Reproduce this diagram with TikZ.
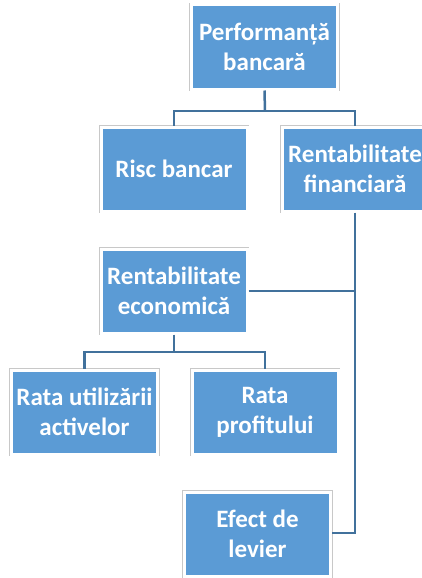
\documentclass[tikz,border=0pt]{standalone}
\usepackage{fontspec}
\setmainfont{Carlito}
\definecolor{boxblue}{HTML}{5B9BD5}
\definecolor{lineblue}{HTML}{41719C}
\definecolor{rimgray}{HTML}{C8C8C8}
\begin{document}
\begin{tikzpicture}[x=1pt,y=-1pt,
  box/.style={fill=boxblue, draw=white, line width=3pt,
    preaction={draw=rimgray, line width=4.5pt},
    minimum width=146pt, minimum height=84pt, inner sep=2pt,
    align=center, text=white,
    font=\fontsize{25}{30}\selectfont\bfseries},
  conn/.style={draw=lineblue, line width=2.5pt}]
\clip (0,0) rectangle (422,578);
\fill[white] (0,0) rectangle (422,578);
\node[box] (perf) at (264.5,47) {Performanță\\bancară};
\node[box] (risc) at (174,169) {Risc bancar};
\node[box] (rfin) at (355,169) {Rentabilitate\\financiară};
\node[box] (recon) at (174,291) {Rentabilitate\\economică};
\node[box] (rutil) at (84.5,412) {Rata utilizării\\activelor};
\node[box] (rprof) at (265,412) {Rata\\profitului};
\node[box] (efect) at (257.5,534) {Efect de\\levier};
\coordinate (t1) at (265,111);
\coordinate (t2) at (174,352);
\coordinate (vr) at (355,533);
\draw[conn] (perf.south) -- (t1);
\draw[conn] (risc.north) |- (t1) -| (rfin.north);
\draw[conn] (recon.south) -- (t2);
\draw[conn] (rutil.north) |- (t2) -| (rprof.north);
\draw[conn] (rfin.south) -- (vr) -- (efect.east |- vr);
\draw[conn] (recon.east) -- (recon.east -| vr);
\end{tikzpicture}
\end{document}
